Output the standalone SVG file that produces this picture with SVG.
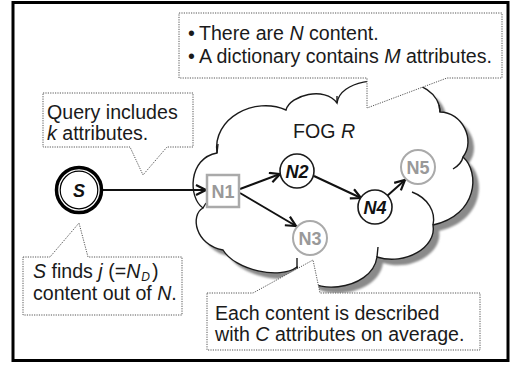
<svg xmlns="http://www.w3.org/2000/svg" width="511" height="365" viewBox="0 0 511 365">
<style>
.txt{font-family:"Liberation Sans",Arial,sans-serif;font-size:19.6px;fill:#1a1a1a}
.it{font-style:italic}
.call{fill:#fff;stroke:#555;stroke-width:1;stroke-dasharray:1.2 1.2}
.cl{fill:#fff;stroke:#1a1a1a;stroke-width:1.4}
.tick{fill:none;stroke:#1a1a1a;stroke-width:1.4}
.nb{fill:#fff;stroke:#1a1a1a;stroke-width:1.6}
.ng{fill:#fff;stroke:#aaa;stroke-width:2}
.lb{font-family:"Liberation Sans",Arial,sans-serif;font-size:18px;font-weight:bold;text-anchor:middle}
.lblk{fill:#111;font-style:italic}
.lgry{fill:#999}
.edge{fill:none;stroke:#111;stroke-width:2;marker-end:url(#arr)}
</style>
<defs>
<marker id="arr" markerUnits="userSpaceOnUse" markerWidth="14" markerHeight="14" refX="11" refY="6" orient="auto">
<path d="M1,1 L11,6 L1,11" fill="none" stroke="#111" stroke-width="2.2" stroke-linejoin="miter"/>
</marker>
<path id="cloud" d="M217,153 C212,118 255,96 286,110 C290,95 325,86 337,103 C340,80 385,76 396,86 C420,78 440,95 440,112 C462,112 476,140 463,157 C480,172 478,215 433,225 C437,247 405,266 377,257 C372,292 305,298 297,267 C280,280 235,270 223,250 C195,245 190,215 203,208 C188,198 188,158 217,153 Z"/>
<filter id="blur" x="-10%" y="-10%" width="120%" height="120%"><feGaussianBlur stdDeviation="1"/></filter>
</defs>

<rect x="13" y="2.5" width="495" height="358" fill="#fff" stroke="#000" stroke-width="3"/>

<g id="fog">
<use href="#cloud" transform="translate(6,6)" fill="#8a8a8a" filter="url(#blur)"/>
<use href="#cloud" class="cl"/>
<path class="tick" d="M217,153 L218,144 M337,103 L337,96 M440,112 L439,105 M463,157 C462,162 458,166 453,169 M412,192 C428,198 436,212 433,225 M377,257 L378,247 M297,267 L297,258 M203,208 L206,203"/>
<text class="txt" x="293" y="138">FOG <tspan class="it">R</tspan></text>
</g>

<g id="callout-top">
<path class="call" d="M179,13 L502,13 L502,78 L447,78 L367,108 L367,78 L179,78 Z"/>
<text class="txt" x="188" y="40">•</text>
<text class="txt" x="199" y="40">There are <tspan class="it">N</tspan> content.</text>
<text class="txt" x="188" y="63">•</text>
<text class="txt" x="199" y="63">A dictionary contains <tspan class="it">M</tspan> attributes.</text>
</g>

<g id="callout-query">
<path class="call" d="M43,93 L193,93 L193,147 L167,147 L143,175 L130,147 L43,147 Z"/>
<text class="txt" x="47" y="119">Query includes</text>
<text class="txt" x="47" y="140"><tspan class="it">k</tspan> attributes.</text>
</g>

<g id="callout-finds">
<path class="call" d="M23,257 L50,257 L79,223 L88,257 L182,257 L182,315 L23,315 Z"/>
<text class="txt" x="33" y="278"><tspan class="it">S</tspan> finds <tspan class="it">j</tspan> (=<tspan class="it">N</tspan><tspan class="it" font-size="12" dx="1" dy="3">D</tspan><tspan dx="2" dy="-3">)</tspan></text>
<text class="txt" x="33" y="300">content out of <tspan class="it">N</tspan>.</text>
</g>

<g id="callout-each">
<path class="call" d="M207,293 L253,293 L313,260 L320,293 L480,293 L480,350 L207,350 Z"/>
<text class="txt" x="215" y="320">Each content is described</text>
<text class="txt" x="215" y="341">with <tspan class="it">C</tspan> attributes on average.</text>
</g>

<g id="connectors">
<line class="edge" x1="103" y1="190" x2="206" y2="190"/>
<line class="edge" x1="240" y1="189" x2="280" y2="174"/>
<line class="edge" x1="240" y1="193" x2="296" y2="226"/>
<line class="edge" x1="314" y1="176" x2="361" y2="198"/>
<line class="edge" x1="387" y1="196" x2="405" y2="180"/>
</g>

<g id="S">
<circle cx="79" cy="190" r="22.5" fill="#fff" stroke="#000" stroke-width="3.5"/>
<circle cx="79" cy="190" r="18.8" fill="none" stroke="#000" stroke-width="1.2"/>
<text class="lb lblk" x="79" y="197" font-size="21">S</text>
</g>

<g id="N1">
<rect x="207" y="175" width="32" height="32" fill="#fff" stroke="#aaa" stroke-width="2.5"/>
<text class="lb lgry" x="223" y="197.5">N1</text>
</g>

<g id="N2">
<circle class="nb" cx="297" cy="171" r="17"/>
<text class="lb lblk" x="297" y="177.5">N2</text>
</g>

<g id="N3">
<circle class="ng" cx="310" cy="238" r="17"/>
<text class="lb lgry" x="310" y="244.5">N3</text>
</g>

<g id="N4">
<circle class="nb" cx="375" cy="207" r="17"/>
<text class="lb lblk" x="375" y="213.5">N4</text>
</g>

<g id="N5">
<circle class="ng" cx="418" cy="167" r="17"/>
<text class="lb lgry" x="418" y="173.5">N5</text>
</g>
</svg>
